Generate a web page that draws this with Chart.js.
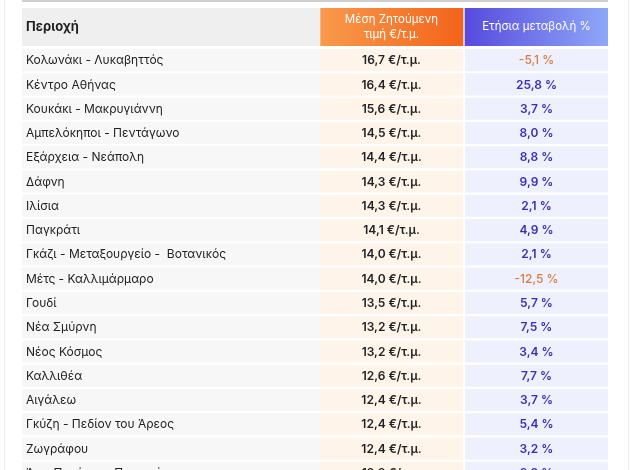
<!DOCTYPE html>
<html><head><meta charset="utf-8">
<script src="https://cdn.jsdelivr.net/npm/chart.js@4.4.1/dist/chart.umd.min.js"></script>
<style>
html,body{margin:0;padding:0;background:#fff;width:642px;height:470px;overflow:hidden;font-family:Inter,"Noto Sans",sans-serif;}
#frame{position:absolute;left:4px;top:0;width:623px;height:480px;border-left:1px solid #ececec;border-right:1px solid #ececec;}
#topline{position:absolute;left:22px;top:0;width:586px;height:2px;background:#cfcfcf;}
#hdr{position:absolute;left:22px;top:8px;width:586px;height:38px;}
#body{position:absolute;left:22px;top:48px;width:586px;height:437px;}
</style></head>
<body>
<div id="frame"></div>
<div id="topline"></div>
<div id="hdr"><canvas id="c1"></canvas></div>
<div id="body"><canvas id="c2"></canvas></div>
<script>
// ---- data ----
const headers = ["Περιοχή", ["Μέση Ζητούμενη", "τιμή €/τ.μ."], "Ετήσια μεταβολή %"];
const areas = [
  "Κολωνάκι - Λυκαβηττός", "Κέντρο Αθήνας", "Κουκάκι - Μακρυγιάννη", "Αμπελόκηποι - Πεντάγωνο",
  "Εξάρχεια - Νεάπολη", "Δάφνη", "Ιλίσια", "Παγκράτι", "Γκάζι - Μεταξουργείο -  Βοτανικός",
  "Μέτς - Καλλιμάρμαρο", "Γουδί", "Νέα Σμύρνη", "Νέος Κόσμος", "Καλλιθέα", "Αιγάλεω",
  "Γκύζη - Πεδίον του Άρεος", "Ζωγράφου", "Άνω Πατήσια - Περισσός"
];
const prices = [16.7, 16.4, 15.6, 14.5, 14.4, 14.3, 14.3, 14.1, 14.0, 14.0, 13.5, 13.2, 13.2, 12.6, 12.4, 12.4, 12.4, 12.3];
const changes = [-5.1, 25.8, 3.7, 8.0, 8.8, 9.9, 2.1, 4.9, 2.1, -12.5, 5.7, 7.5, 3.4, 7.7, 3.7, 5.4, 3.2, 3.3];

// ---- layout (column edges in chart units) ----
const COLS = [[0, 298], [298, 441], [443, 586]];
const FONT = 'Inter, "Noto Sans", sans-serif';
const fmt = v => v.toFixed(1).replace('.', ',');

const hiddenScales = (labels) => ({
  x: {type: 'linear', min: 0, max: 586, display: false},
  y: {type: 'category', labels: labels, display: false}
});
const baseOpts = {
  responsive: true, maintainAspectRatio: false, animation: false,
  layout: {padding: 0},
  plugins: {legend: {display: false}, tooltip: {enabled: false}},
  events: []
};

// header chart
const hdrFills = [
  () => '#efefef',
  (ctx) => { const a = ctx.chart.chartArea; if (!a) return '#f58034';
    const g = ctx.chart.ctx.createLinearGradient(ctx.chart.scales.x.getPixelForValue(COLS[1][0]), 0, ctx.chart.scales.x.getPixelForValue(COLS[1][1]), 0);
    g.addColorStop(0, '#f89a4c'); g.addColorStop(1, '#f3641a'); return g; },
  (ctx) => { const a = ctx.chart.chartArea; if (!a) return '#6b6ee8';
    const g = ctx.chart.ctx.createLinearGradient(ctx.chart.scales.x.getPixelForValue(COLS[2][0]), 0, ctx.chart.scales.x.getPixelForValue(COLS[2][1]), 0);
    g.addColorStop(0, '#574ade'); g.addColorStop(1, '#8ea8f8'); return g; }
];
const hdrText = {
  id: 'hdrText',
  afterDatasetsDraw(chart) {
    const c = chart.ctx, xs = chart.scales.x, ys = chart.scales.y;
    const y = ys.getPixelForValue(0);
    c.save(); c.textBaseline = 'middle';
    c.fillStyle = '#1f1f1f'; c.font = '700 13px ' + FONT; c.textAlign = 'left';
    c.fillText(headers[0], xs.getPixelForValue(COLS[0][0]) + 4, y);
    c.fillStyle = '#ffffff'; c.font = '400 11.5px ' + FONT; c.textAlign = 'center';
    const x2 = xs.getPixelForValue((COLS[1][0] + COLS[1][1]) / 2);
    c.fillText(headers[1][0], x2, y - 7.5);
    c.fillText(headers[1][1], x2, y + 7.5);
    c.font = '400 11.5px ' + FONT;
    c.fillText(headers[2], xs.getPixelForValue((COLS[2][0] + COLS[2][1]) / 2), y);
    c.restore();
  }
};
new Chart(document.getElementById('c1'), {
  type: 'bar',
  data: {labels: ['h'], datasets: COLS.map((col, i) => ({
    data: [col], backgroundColor: hdrFills[i], borderWidth: 0,
    categoryPercentage: 1, barPercentage: 1, grouped: false
  }))},
  options: Object.assign({}, baseOpts, {indexAxis: 'y', scales: hiddenScales(['h'])}),
  plugins: [hdrText]
});

// body chart
const bodyFills = ['#f7f7f7', '#fff4e9', '#eef1fd'];
const bodyText = {
  id: 'bodyText',
  afterDatasetsDraw(chart) {
    const c = chart.ctx, xs = chart.scales.x, ys = chart.scales.y;
    c.save(); c.textBaseline = 'middle';
    areas.forEach((name, i) => {
      const y = ys.getPixelForValue(i) + 0.5;
      c.textAlign = 'left'; c.fillStyle = '#222222'; c.font = '400 12px ' + FONT;
      c.fillText(name, xs.getPixelForValue(COLS[0][0]) + 4, y);
      c.textAlign = 'center'; c.font = '600 12px ' + FONT; c.fillStyle = '#222222';
      c.fillText(fmt(prices[i]) + ' €/τ.μ.', xs.getPixelForValue((COLS[1][0] + COLS[1][1]) / 2), y);
      const neg = changes[i] < 0;
      c.fillStyle = neg ? '#db7a3e' : '#3a2db8';
      c.font = (neg ? '500' : '600') + ' 12px ' + FONT;
      c.fillText(fmt(changes[i]) + ' %', xs.getPixelForValue((COLS[2][0] + COLS[2][1]) / 2), y);
    });
    c.restore();
  }
};
new Chart(document.getElementById('c2'), {
  type: 'bar',
  data: {labels: areas, datasets: COLS.map((col, i) => ({
    data: areas.map(() => col), backgroundColor: bodyFills[i], borderWidth: 0,
    categoryPercentage: 1, barPercentage: 0.91, grouped: false
  }))},
  options: Object.assign({}, baseOpts, {indexAxis: 'y', scales: hiddenScales(areas)}),
  plugins: [bodyText]
});
</script>
</body></html>
